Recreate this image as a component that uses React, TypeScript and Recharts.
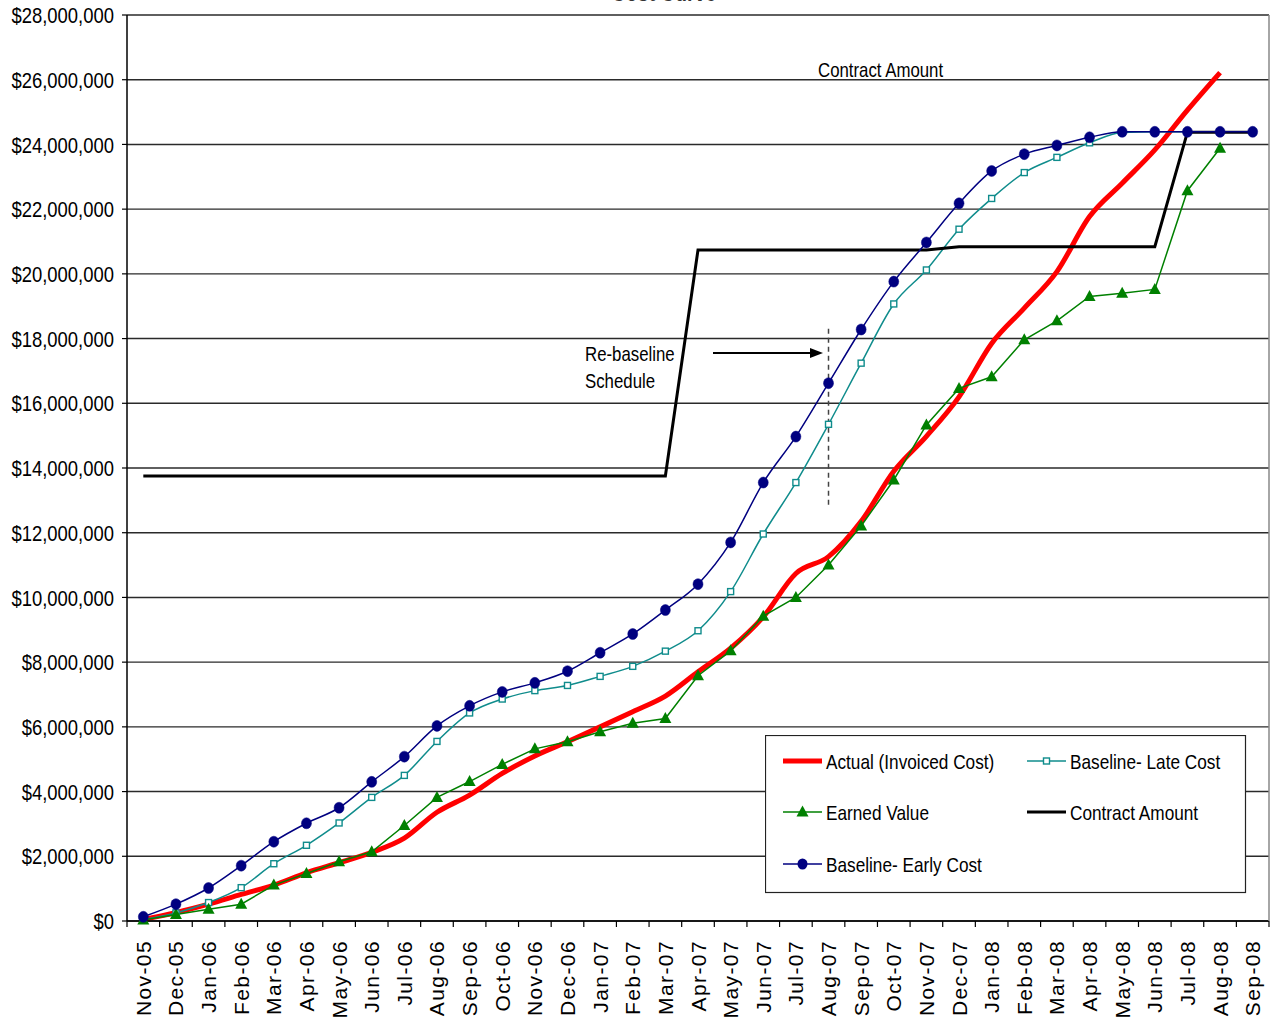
import React from 'react';
import { LineChart, Line, XAxis, YAxis, CartesianGrid, Legend, ReferenceLine } from 'recharts';

const months = [
  'Nov-05', 'Dec-05', 'Jan-06', 'Feb-06', 'Mar-06', 'Apr-06', 'May-06', 'Jun-06', 'Jul-06',
  'Aug-06', 'Sep-06', 'Oct-06', 'Nov-06', 'Dec-06', 'Jan-07', 'Feb-07', 'Mar-07', 'Apr-07',
  'May-07', 'Jun-07', 'Jul-07', 'Aug-07', 'Sep-07', 'Oct-07', 'Nov-07', 'Dec-07', 'Jan-08',
  'Feb-08', 'Mar-08', 'Apr-08', 'May-08', 'Jun-08', 'Jul-08', 'Aug-08', 'Sep-08',
];

// values in $ millions
const actualCost = [
  0.05, 0.26, 0.52, 0.82, 1.11, 1.49, 1.8, 2.12, 2.56, 3.36, 3.89, 4.56, 5.1, 5.54, 6.0, 6.47,
  6.95, 7.7, 8.43, 9.4, 10.74, 11.26, 12.35, 13.9, 14.98, 16.2, 17.85, 18.94, 20.07, 21.77,
  22.8, 23.83, 25.06, 26.22, null,
];
const baselineLate = [
  0.05, 0.25, 0.57, 1.03, 1.77, 2.34, 3.03, 3.82, 4.5, 5.55, 6.43, 6.86, 7.12, 7.28, 7.56, 7.87,
  8.34, 8.97, 10.18, 11.96, 13.55, 15.35, 17.24, 19.07, 20.12, 21.38, 22.33, 23.13, 23.6, 24.05,
  24.37, 24.39, 24.39, 24.39, 24.39,
];
const earnedValue = [
  0.03, 0.2, 0.36, 0.52, 1.11, 1.47, 1.83, 2.14, 2.95, 3.82, 4.31, 4.84, 5.32, 5.54, 5.85, 6.11,
  6.26, 7.58, 8.35, 9.42, 10.0, 11.0, 12.21, 13.63, 15.33, 16.46, 16.82, 17.96, 18.55, 19.3,
  19.4, 19.52, 22.57, 23.88, null,
];
const contractAmount = [
  13.75, 13.75, 13.75, 13.75, 13.75, 13.75, 13.75, 13.75, 13.75, 13.75, 13.75, 13.75, 13.75,
  13.75, 13.75, 13.75, 13.75, 20.74, 20.74, 20.74, 20.74, 20.74, 20.74, 20.74, 20.74, 20.84,
  20.84, 20.84, 20.84, 20.84, 20.84, 20.84, 24.38, 24.38, 24.38,
];
const baselineEarly = [
  0.13, 0.52, 1.02, 1.71, 2.45, 3.02, 3.5, 4.3, 5.08, 6.03, 6.65, 7.08, 7.36, 7.72, 8.29, 8.87,
  9.61, 10.41, 11.7, 13.55, 14.97, 16.62, 18.28, 19.76, 20.97, 22.18, 23.18, 23.7, 23.97, 24.22,
  24.39, 24.39, 24.39, 24.39, 24.39,
];

const yTicks = [0, 2, 4, 6, 8, 10, 12, 14, 16, 18, 20, 22, 24, 26, 28].map((v) => v * 1e6);

const toDollars = (v: number | null) => (v == null ? null : Math.round(v * 1e6));

const data = months.map((m, i) => ({
  month: m,
  actual: toDollars(actualCost[i]),
  late: toDollars(baselineLate[i]),
  earned: toDollars(earnedValue[i]),
  contract: toDollars(contractAmount[i]),
  early: toDollars(baselineEarly[i]),
}));

const W = 1275;
const H = 1022;
const M = { top: 15, right: 6, bottom: 0, left: 0 };
const Y_W = 127;
const X_H = 101;
const HALF = (W - M.right - Y_W) / months.length / 2;

const REG = "'Liberation Sans', Arial, sans-serif";
const NARROW_SCALE = 0.82;

const C_RED = '#ff0000';
const C_TEAL = '#0f8c8c';
const C_GREEN = '#008000';
const C_NAVY = '#000080';

const fmtMoney = (v: number) => '$' + Math.round(v).toLocaleString('en-US');

const NarrowText = (p: {
  x: number;
  y: number;
  size: number;
  anchor?: 'start' | 'middle' | 'end';
  weight?: string;
  fill?: string;
  baseline?: string;
  children: React.ReactNode;
}) => (
  <text
    transform={`translate(${p.x},${p.y}) scale(${NARROW_SCALE},1)`}
    x={0}
    y={0}
    textAnchor={p.anchor || 'start'}
    dominantBaseline={p.baseline as any}
    fontFamily={REG}
    fontSize={p.size}
    fontWeight={p.weight}
    fill={p.fill || '#000'}
  >
    {p.children}
  </text>
);

const CircleDot = (p: any) => {
  if (p.cx == null || p.cy == null || p.value == null) return <g key={p.key} />;
  return <ellipse key={p.key} cx={p.cx} cy={p.cy} rx={5} ry={5.5} fill={C_NAVY} stroke={C_NAVY} strokeWidth={0.5} />;
};
const SquareDot = (p: any) => {
  if (p.cx == null || p.cy == null || p.value == null) return <g key={p.key} />;
  return <rect key={p.key} x={p.cx - 3} y={p.cy - 3} width={6} height={6} fill="#fff" stroke={C_TEAL} strokeWidth={1.4} />;
};
const TriDot = (p: any) => {
  if (p.cx == null || p.cy == null || p.value == null) return <g key={p.key} />;
  const { cx, cy } = p;
  return <path key={p.key} d={`M${cx},${cy - 6.5} L${cx + 6},${cy + 4.5} L${cx - 6},${cy + 4.5} Z`} fill={C_GREEN} />;
};

const XTick = (props: any) => {
  const { x, y, payload, index } = props;
  const ty = y + 19;
  return (
    <g>
      <line x1={x - HALF} y1={y} x2={x - HALF} y2={y + 6} stroke="#000" strokeWidth={1.2} />
      {index === months.length - 1 ? (
        <line x1={x + HALF} y1={y} x2={x + HALF} y2={y + 6} stroke="#000" strokeWidth={1.2} />
      ) : null}
      <text
        x={x}
        y={ty}
        transform={`rotate(-90, ${x}, ${ty})`}
        textAnchor="end"
        dominantBaseline="central"
        fontFamily={REG}
        fontSize={21}
        letterSpacing={1.4}
        fill="#000"
      >
        {payload.value}
      </text>
    </g>
  );
};

const YTick = (props: any) => {
  const { x, y, payload } = props;
  return (
    <NarrowText x={x} y={y} size={22.5} anchor="end" baseline="central">
      {fmtMoney(payload.value)}
    </NarrowText>
  );
};

const legendItems = [
  { name: 'Actual (Invoiced Cost)', color: C_RED, width: 5, marker: 'none', col: 0, row: 0 },
  { name: 'Baseline- Late Cost', color: C_TEAL, width: 1.5, marker: 'square', col: 1, row: 0 },
  { name: 'Earned Value', color: C_GREEN, width: 1.5, marker: 'triangle', col: 0, row: 1 },
  { name: 'Contract Amount', color: '#000', width: 3, marker: 'none', col: 1, row: 1 },
  { name: 'Baseline- Early Cost', color: C_NAVY, width: 1.5, marker: 'circle', col: 0, row: 2 },
];

const renderLegend = () => {
  const rows = [26, 77, 129];
  const cols = [18, 262];
  return (
    <svg width={482} height={159} style={{ display: 'block' }}>
      <rect x={0.5} y={0.5} width={480} height={157} fill="#fff" stroke="#222" strokeWidth={1.2} />
      {legendItems.map((it) => {
        const y = rows[it.row];
        const x0 = cols[it.col];
        const cx = x0 + 19.5;
        return (
          <g key={it.name}>
            <line x1={x0} y1={y} x2={x0 + 39} y2={y} stroke={it.color} strokeWidth={it.width} />
            {it.marker === 'square' ? (
              <rect x={cx - 3} y={y - 3} width={6} height={6} fill="#fff" stroke={it.color} strokeWidth={1.4} />
            ) : null}
            {it.marker === 'triangle' ? (
              <path d={`M${cx},${y - 6.5} L${cx + 6},${y + 4.5} L${cx - 6},${y + 4.5} Z`} fill={it.color} />
            ) : null}
            {it.marker === 'circle' ? <ellipse cx={cx} cy={y} rx={5} ry={5.5} fill={it.color} /> : null}
            <NarrowText x={x0 + 43} y={y + 7.5} size={21}>
              {it.name}
            </NarrowText>
          </g>
        );
      })}
    </svg>
  );
};

export default function App() {
  return (
    <div style={{ position: 'absolute', left: 0, top: 0, width: W, height: H, background: '#fff' }}>
      <LineChart width={W} height={H} data={data} margin={M}>
        <CartesianGrid horizontal vertical={false} stroke="#2a2a2a" strokeWidth={1.4} />
        <XAxis
          dataKey="month"
          type="category"
          interval={0}
          height={X_H}
          padding={{ left: HALF, right: HALF }}
          tickLine={false}
          tickSize={0}
          tickMargin={0}
          axisLine={{ stroke: '#000', strokeWidth: 1.5 }}
          tick={<XTick />}
        />
        <YAxis
          type="number"
          domain={[0, 28e6]}
          ticks={yTicks}
          interval={0}
          width={Y_W}
          tickSize={5}
          tickMargin={8}
          tickFormatter={fmtMoney}
          tickLine={{ stroke: '#000', strokeWidth: 1.2 }}
          axisLine={{ stroke: '#000', strokeWidth: 1.5 }}
          tick={<YTick />}
        />
        <ReferenceLine
          segment={[
            { x: 'Aug-07', y: 18.3e6 },
            { x: 'Aug-07', y: 12.8e6 },
          ]}
          stroke="#444"
          strokeWidth={1.5}
          strokeDasharray="5 4"
        />
        <Line
          type="monotone"
          dataKey="actual"
          name="Actual (Invoiced Cost)"
          stroke={C_RED}
          strokeWidth={5}
          dot={false}
          activeDot={false}
          isAnimationActive={false}
          connectNulls={false}
        />
        <Line
          type="monotone"
          dataKey="late"
          name="Baseline- Late Cost"
          stroke={C_TEAL}
          strokeWidth={1.5}
          dot={<SquareDot />}
          activeDot={false}
          isAnimationActive={false}
        />
        <Line
          type="linear"
          dataKey="earned"
          name="Earned Value"
          stroke={C_GREEN}
          strokeWidth={1.5}
          dot={<TriDot />}
          activeDot={false}
          isAnimationActive={false}
        />
        <Line
          type="linear"
          dataKey="contract"
          name="Contract Amount"
          stroke="#000"
          strokeWidth={3}
          dot={false}
          activeDot={false}
          isAnimationActive={false}
        />
        <Line
          type="monotone"
          dataKey="early"
          name="Baseline- Early Cost"
          stroke={C_NAVY}
          strokeWidth={1.5}
          dot={<CircleDot />}
          activeDot={false}
          isAnimationActive={false}
        />
        <Legend
          layout="horizontal"
          verticalAlign="middle"
          align="center"
          content={renderLegend}
          wrapperStyle={{ position: 'absolute', left: 765, top: 735, width: 482, height: 159 }}
        />
      </LineChart>
      <svg
        width={W}
        height={H}
        style={{ position: 'absolute', left: 0, top: 0, pointerEvents: 'none' }}
      >
        <NarrowText x={664} y={1} size={24} anchor="middle" weight="bold" fill="#333">
          Cost Curve
        </NarrowText>
        <line x1={1269} y1={15} x2={1269} y2={921} stroke="#888" strokeWidth={1.5} />
        <NarrowText x={818} y={77} size={20.5}>
          Contract Amount
        </NarrowText>
        <NarrowText x={585} y={361} size={20.5}>
          Re-baseline
        </NarrowText>
        <NarrowText x={585} y={388} size={20.5}>
          Schedule
        </NarrowText>
        <line x1={713} y1={353} x2={812} y2={353} stroke="#000" strokeWidth={2} />
        <path d="M823,353 L810,348 L810,358 Z" fill="#000" />
      </svg>
    </div>
  );
}
